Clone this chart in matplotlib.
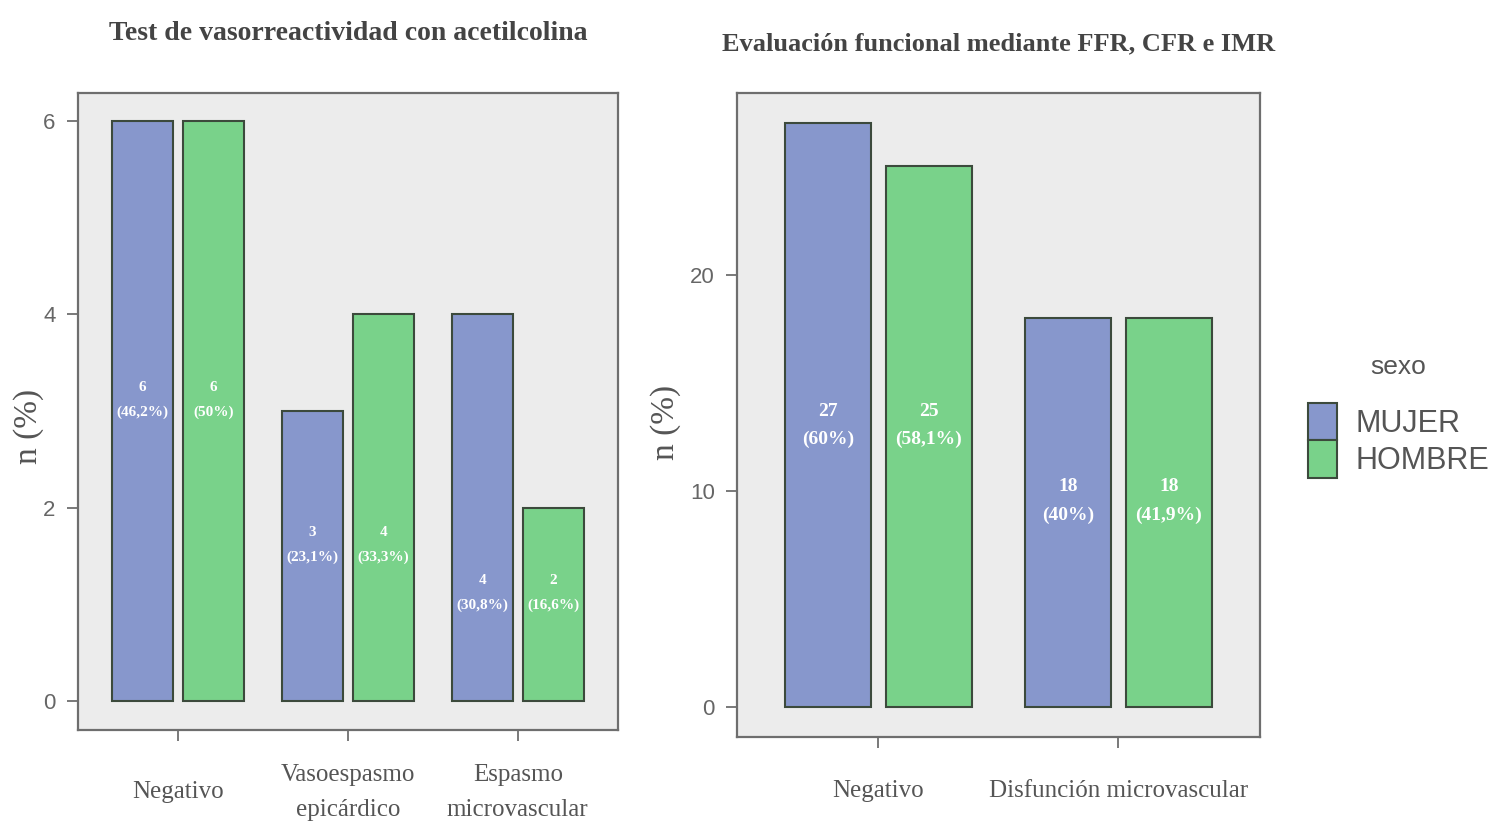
import numpy as np
import matplotlib.pyplot as plt
from matplotlib.patches import Patch

# datos
cat_izq = ["Negativo", "Vasoespasmo\nepicárdico", "Espasmo\nmicrovascular"]
mujer_izq = [6, 3, 4]
hombre_izq = [6, 4, 2]
pct_mujer_izq = ["46,2%", "23,1%", "30,8%"]
pct_hombre_izq = ["50%", "33,3%", "16,6%"]

cat_der = ["Negativo", "Disfunción microvascular"]
mujer_der = [27, 18]
hombre_der = [25, 18]
pct_mujer_der = ["60%", "40%"]
pct_hombre_der = ["58,1%", "41,9%"]

series = ["MUJER", "HOMBRE"]
colores = ["#8797cc", "#79d28a"]
edge = "#3c4a3c"
bg = "#ececec"
frame = "#6e6e6e"

serif = "Liberation Serif"
sans = "Liberation Sans"

fig = plt.figure(figsize=(14.93, 8.25), dpi=100)
ax1 = fig.add_axes([0.0522, 0.1152, 0.3617, 0.772])
ax2 = fig.add_axes([0.4936, 0.1067, 0.3503, 0.7806])


def panel(ax, cats, m, h, pm, ph, yticks, titulo, ylim, fs_lab, ls_lab,
          xpad, tpad, tfs, ylab_xy):
    x = np.arange(len(cats))
    w = 0.36
    d = 0.21
    b1 = ax.bar(x - d, m, w, color=colores[0], edgecolor=edge, linewidth=1.5)
    b2 = ax.bar(x + d, h, w, color=colores[1], edgecolor=edge, linewidth=1.5)
    for bars, vals, pcts in [(b1, m, pm), (b2, h, ph)]:
        for i, (b, v, p) in enumerate(zip(bars, vals, pcts)):
            # etiquetas a la misma altura dentro de cada grupo
            yl = min(m[i], h[i]) / 2
            ax.annotate(f"{v}\n({p})", (b.get_x() + b.get_width() / 2, yl),
                        xytext=(0, 8), textcoords="offset points",
                        ha="center", va="center", color="white", fontsize=fs_lab,
                        fontweight="bold", family=serif, linespacing=ls_lab)
    ax.set_facecolor(bg)
    ax.set_xlim(-0.59, len(cats) - 1 + 0.59)
    ax.set_ylim(*ylim)
    ax.set_yticks(yticks)
    ax.set_xticks(x)
    ax.set_xticklabels(cats, family=serif, fontsize=18, color="#555555",
                       linespacing=1.75, va="center")
    ax.tick_params(axis="y", labelsize=16, labelcolor="#666666", color=frame,
                   length=8, width=1.3, pad=8)
    ax.tick_params(axis="x", color=frame, length=8, width=1.3, pad=xpad)
    for lab in ax.get_yticklabels():
        lab.set_family(sans)
    for s in ax.spines.values():
        s.set_color(frame)
        s.set_linewidth(1.6)
    ax.set_ylabel("n (%)", family=serif, fontsize=24, color="#555555", va="center")
    ax.yaxis.set_label_coords(*ylab_xy)
    ax.set_title(titulo, family=serif, fontsize=tfs, fontweight="bold",
                 color="#444444", pad=tpad)


panel(ax1, cat_izq, mujer_izq, hombre_izq, pct_mujer_izq, pct_hombre_izq,
      [0, 2, 4, 6], "Test de vasorreactividad con acetilcolina",
      (-0.3, 6.29), 11, 2.1, 37, 38, 20, (-0.091, 0.476))
panel(ax2, cat_der, mujer_der, hombre_der, pct_mujer_der, pct_hombre_der,
      [0, 10, 20], "Evaluación funcional mediante FFR, CFR e IMR",
      (-1.39, 28.4), 14, 1.85, 31, 31, 19, (-0.136, 0.488))

handles = [Patch(facecolor=c, edgecolor=edge, linewidth=1.5) for c in colores]
leg = fig.legend(handles, series, loc="upper left", bbox_to_anchor=(0.866, 0.530),
                 frameon=False, handlelength=0.95, handleheight=1.5,
                 labelspacing=0.0, handletextpad=0.6, borderpad=0,
                 prop={"family": sans, "size": 22})
for t in leg.get_texts():
    t.set_color("#555555")
fig.text(0.9365, 0.555, "sexo", ha="center", va="center", family=sans,
         fontsize=19, color="#555555")

fig.savefig("out.png", dpi=100)
